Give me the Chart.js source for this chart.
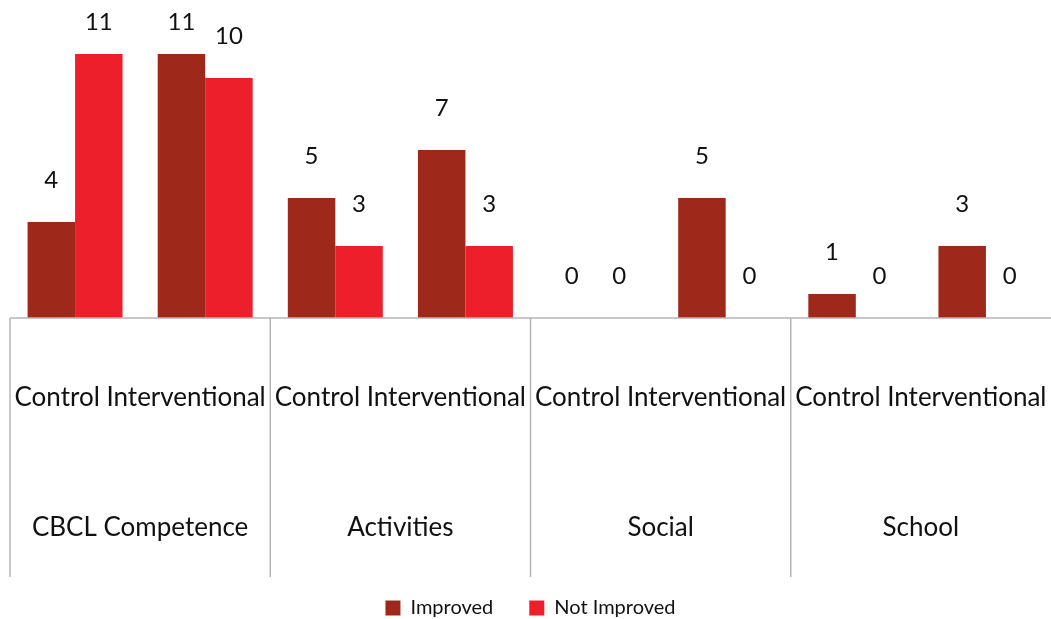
<!DOCTYPE html>
<html>
<head>
<meta charset="utf-8">
<script src="https://cdn.jsdelivr.net/npm/chart.js@4.4.1/dist/chart.umd.min.js"></script>
<style>
  html, body { margin: 0; padding: 0; background: #fff; }
  #wrap { width: 1051px; height: 619px; }
</style>
</head>
<body>
<div id="wrap"><canvas id="chart"></canvas></div>
<script>
const categories = ['Control', 'Interventional', 'Control', 'Interventional', 'Control', 'Interventional', 'Control', 'Interventional'];
const groups = ['CBCL Competence', 'Activities', 'Social', 'School'];
const improved = [4, 11, 5, 7, 0, 5, 1, 3];
const notImproved = [11, 10, 3, 3, 0, 0, 0, 0];

const font = 'Lato, "Open Sans", sans-serif';
const lineClr = '#b5b5b8';

const groupAxis = {
    id: 'groupAxis',
    afterDatasetsDraw(chart) {
        const { ctx, chartArea: a, scales: { x } } = chart;
        ctx.save();
        ctx.fillStyle = '#111';
        ctx.textAlign = 'center';
        ctx.textBaseline = 'middle';
        ctx.font = '24px ' + font;
        chart.data.datasets.forEach((ds, di) => {
            chart.getDatasetMeta(di).data.forEach((el, i) => {
                ctx.fillText(String(ds.data[i]), el.x, Math.max(el.y - 42, 22));
            });
        });

        ctx.strokeStyle = lineClr;
        ctx.lineWidth = 1.5;
        ctx.beginPath();
        ctx.moveTo(a.left, a.bottom);
        ctx.lineTo(a.right, a.bottom);
        const step = x.getPixelForValue(1) - x.getPixelForValue(0);
        for (let g = 0; g < groups.length; g++) {
            const lx = x.getPixelForValue(g * 2) - step / 2;
            ctx.moveTo(lx, a.bottom);
            ctx.lineTo(lx, a.bottom + 259);
        }
        ctx.stroke();

        ctx.font = '26px ' + font;
        groups.forEach((g, gi) => {
            const cx = (x.getPixelForValue(gi * 2) + x.getPixelForValue(gi * 2 + 1)) / 2;
            ctx.fillText(categories[gi * 2] + ' ' + categories[gi * 2 + 1], cx, a.bottom + 80);
            ctx.fillText(g, cx, a.bottom + 210);
        });
        ctx.restore();
    }
};

new Chart(document.getElementById('chart'), {
    type: 'bar',
    data: {
        labels: categories,
        datasets: [
            { label: 'Improved', data: improved, backgroundColor: '#9e2819', categoryPercentage: 0.73, barPercentage: 1 },
            { label: 'Not Improved', data: notImproved, backgroundColor: '#ed1f2b', categoryPercentage: 0.73, barPercentage: 1 }
        ]
    },
    options: {
        responsive: true,
        maintainAspectRatio: false,
        animation: false,
        layout: { padding: { top: 30, left: 10, right: 0, bottom: -9 } },
        plugins: {
            tooltip: { enabled: false },
            legend: {
                position: 'bottom',
                labels: { color: '#111', font: { family: font, size: 20 }, boxWidth: 15, boxHeight: 15, padding: 36 }
            }
        },
        scales: {
            x: {
                grid: { display: false },
                border: { display: false },
                ticks: { display: false },
                afterFit: s => { s.height = 244; }
            },
            y: { display: false, min: 0, max: 12 }
        }
    },
    plugins: [groupAxis]
});
</script>
</body>
</html>
